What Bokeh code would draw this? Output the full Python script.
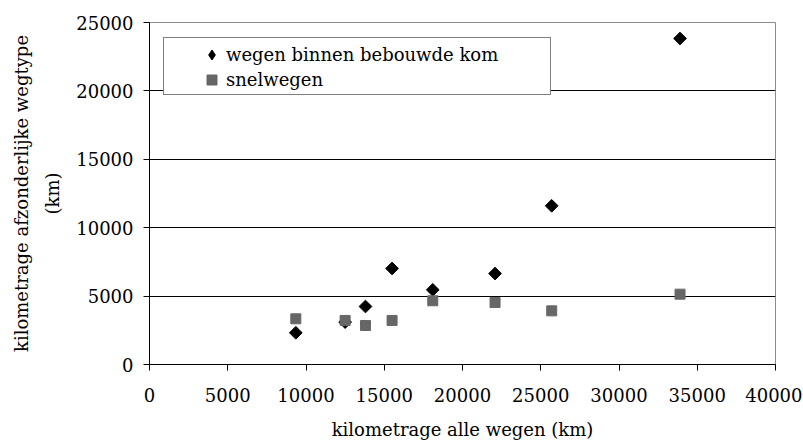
import numpy as np
from bokeh.plotting import figure
from bokeh.models import Range1d, LinearAxis, FixedTicker, Legend, LegendItem
from bokeh.embed import file_html
from bokeh.resources import INLINE

# ---- data ----
alle_wegen = [9350, 12500, 13800, 15500, 18100, 22080, 25700, 33900]
binnen_bebouwde_kom = [2320, 3100, 4240, 7020, 5460, 6650, 11600, 23830]
snelwegen = [3340, 3220, 2850, 3220, 4660, 4530, 3920, 5140]
series_labels = ["wegen binnen bebouwde kom", "snelwegen"]
x_ticks = [0, 5000, 10000, 15000, 20000, 25000, 30000, 35000, 40000]
y_ticks = [0, 5000, 10000, 15000, 20000, 25000]
x_title = "kilometrage alle wegen (km)"
y_title_1 = "kilometrage afzonderlijke wegtype"
y_title_2 = "(km)"

FONT = "DejaVu Serif"
FS = "18px"

p = figure(width=802, height=444, output_backend="svg", toolbar_location=None,
           x_range=Range1d(x_ticks[0], x_ticks[-1]),
           y_range=Range1d(y_ticks[0], y_ticks[-1]),
           min_border_left=149, min_border_right=27,
           min_border_top=22, min_border_bottom=80,
           x_axis_label=x_title, y_axis_label=y_title_2)
p.background_fill_color = "white"
p.border_fill_color = "white"
p.outline_line_color = "#8c8c8c"
p.outline_line_width = 1

for ax in (p.xaxis[0], p.yaxis[0]):
    ax.axis_line_color = "black"
    ax.axis_line_width = 1
    ax.major_tick_line_color = "black"
    ax.major_tick_out = 6
    ax.major_tick_in = 0
    ax.minor_tick_line_color = None
    ax.major_label_text_font = FONT
    ax.major_label_text_font_size = FS
    ax.major_label_text_color = "black"
    ax.axis_label_text_font = FONT
    ax.axis_label_text_font_size = FS
    ax.axis_label_text_font_style = "normal"
    ax.axis_label_text_color = "black"

p.xaxis[0].ticker = FixedTicker(ticks=x_ticks)
p.yaxis[0].ticker = FixedTicker(ticks=y_ticks)
p.xaxis[0].major_label_standoff = 17
p.xaxis[0].axis_label_standoff = 14
p.yaxis[0].major_label_standoff = 10
p.yaxis[0].axis_label_standoff = 10

ax2 = LinearAxis(ticker=FixedTicker(ticks=[]), axis_label=y_title_1,
                 axis_line_color=None, major_tick_line_color=None,
                 minor_tick_line_color=None, axis_label_standoff=8,
                 axis_label_text_font=FONT, axis_label_text_font_size=FS,
                 axis_label_text_font_style="normal", axis_label_text_color="black")
p.add_layout(ax2, "left")

p.xgrid.visible = False
p.ygrid.ticker = FixedTicker(ticks=y_ticks[1:-1])
p.ygrid.grid_line_color = "black"
p.ygrid.grid_line_width = 1

r1 = p.scatter(alle_wegen, binnen_bebouwde_kom, marker="square", angle=np.pi / 4,
               size=9, color="black")
r2 = p.scatter(alle_wegen, snelwegen, marker="square", size=10, color="#676767")

# hidden renderer of the same series, used only as the legend's diamond key
r1_key = p.scatter(alle_wegen, binnen_bebouwde_kom, marker="diamond",
                   color="black", visible=False)

# legend frame (box only)
dummy = p.scatter([], [], marker="square", size=1, alpha=0)
legend_box = Legend(items=[LegendItem(label=" ", renderers=[dummy])],
                    location=(14, 269), padding=0, spacing=0, margin=0,
                    glyph_width=1, glyph_height=56, label_height=56,
                    label_width=385, label_standoff=0,
                    border_line_color="black", border_line_width=1,
                    background_fill_color="white", background_fill_alpha=1,
                    label_text_font_size="1px")
legend_items = Legend(items=[LegendItem(label=series_labels[0], renderers=[r1_key]),
                             LegendItem(label=series_labels[1], renderers=[r2])],
                      location=(50, 272), padding=0, spacing=0, margin=0,
                      glyph_width=25, glyph_height=25, label_height=25,
                      label_standoff=2, border_line_color=None,
                      background_fill_alpha=0,
                      inactive_fill_alpha=0,
                      label_text_font=FONT, label_text_font_size=FS,
                      label_text_color="black")
p.add_layout(legend_box, "center")
p.add_layout(legend_items, "center")

open("out.html", "w").write(file_html(p, INLINE))
